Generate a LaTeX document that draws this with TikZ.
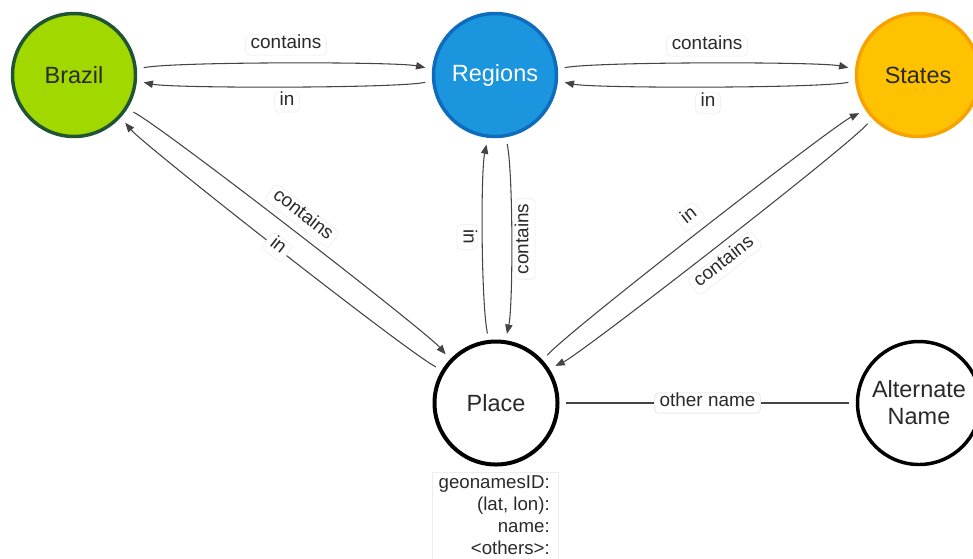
\documentclass[tikz,border=0pt]{standalone}
\usepackage{fontspec}
\setmainfont{Liberation Sans}
\usetikzlibrary{arrows.meta}
\definecolor{brazilfill}{HTML}{A0D800}
\definecolor{brazildraw}{HTML}{1F5434}
\definecolor{regfill}{HTML}{1A95DE}
\definecolor{regdraw}{HTML}{0F6CBD}
\definecolor{stfill}{HTML}{FFC200}
\definecolor{stdraw}{HTML}{F8A200}
\definecolor{edgec}{HTML}{444444}
\definecolor{txt}{HTML}{2A2A2A}
\begin{document}
\begin{tikzpicture}[x=0.75pt,y=-0.75pt,
  ent/.style={circle, minimum size=92.25pt, line width=2.6pt, outer sep=6.4pt, inner sep=0pt,
    font=\fontsize{17.6}{20.3}\selectfont, align=center, text=txt},
  rel/.style={draw=edgec, line width=0.8pt, -{Triangle[length=7pt,width=5.5pt]}, bend left=12, distance=22pt},
  plain/.style={draw=edgec, line width=0.8pt},
  lbl/.style={fill=white, draw=black!8, rounded corners=3pt, font=\fontsize{14.2}{16}\selectfont,
    text=txt, inner xsep=3.75pt, inner ysep=3pt, text height=0.72em, text depth=0.2em},
]
\useasboundingbox (0,0) rectangle (973,558);

% entities
\node[ent, fill=brazilfill, draw=brazildraw] (brazil) at (74,75) {Brazil};
\node[ent, fill=regfill, draw=regdraw, text=white] (regions) at (495,75) {Regions};
\node[ent, fill=stfill, draw=stdraw] (states) at (918,75) {States};
\node[ent, fill=white, draw=black, line width=3pt] (place) at (496,403) {Place};
\node[ent, fill=white, draw=black] (alt) at (919,403) {Alternate\\Name};

% relationships
\draw[rel] (brazil.6) to (regions.174);
\draw[rel] (regions.186) to (brazil.-6);
\draw[rel] (regions.6) to (states.174);
\draw[rel] (states.186) to (regions.-6);
\draw[rel] (brazil.-32) to (place.136);
\draw[rel] (place.149) to (brazil.-43);
\draw[rel] (place.97) to (regions.263);
\draw[rel] (regions.280) to (place.81);
\draw[rel] (place.43) to (states.213);
\draw[rel] (states.224) to (place.32);
\draw[plain] (place) -- (alt) node[lbl, midway] (lother) {other name};

% labels
\node[lbl] (l1) at (286,45) {contains};
\node[lbl] (l2) at (287,102) {in};
\node[lbl] (l3) at (707,46) {contains};
\node[lbl] (l4) at (708,103) {in};
\node[lbl, rotate=-38] (l5) at (302,216) {contains};
\node[lbl, rotate=-38] (l6) at (277,247) {in};
\node[lbl, rotate=-90] (l7) at (467,237) {in};
\node[lbl, rotate=90] (l8) at (525,239) {contains};
\node[lbl, rotate=38] (l9) at (690,217) {in};
\node[lbl, rotate=38] (l10) at (725,263) {contains};

% properties
\node[font=\fontsize{14}{16.6}\selectfont, text=txt, align=right, anchor=north east,
  inner xsep=0pt, inner ysep=2.5pt] (props) at (550,472) {geonamesID:\\(lat, lon):\\name:\\<others>:};
\draw[black!7, line width=0.6pt] (432,472) rectangle (558,575);
\end{tikzpicture}
\end{document}
